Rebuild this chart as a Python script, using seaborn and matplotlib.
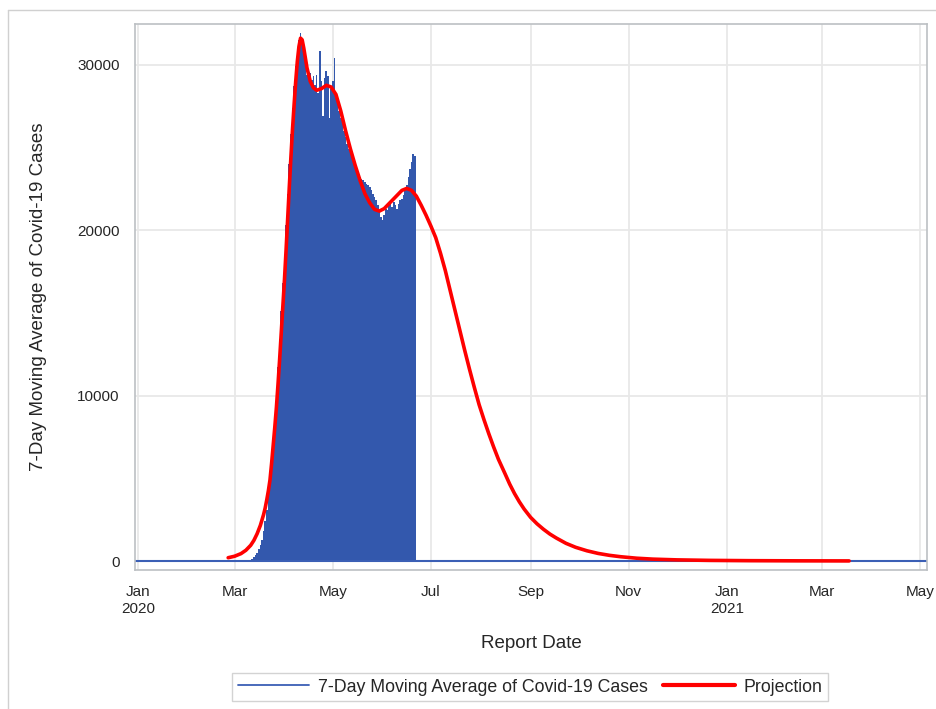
import numpy as np
import pandas as pd
import seaborn as sns
import matplotlib.pyplot as plt
import matplotlib.dates as mdates
from matplotlib.lines import Line2D

# daily values (first needle on 2020-03-12)
case_start = '2020-03-12'
case_values = [150, 250, 350, 500, 700, 950, 1300, 1800, 2400, 3100,
               3900, 4800, 5900, 7200, 8600, 10100, 11700, 13400, 15100, 16800,
               18500, 20300, 22200, 24000, 25800, 27400, 28700, 29900, 30800, 31500,
               31900, 31600, 30800, 30000, 29400, 29200, 29500, 29100, 29300, 28800,
               29400, 28300, 30800, 29000, 26900, 29200, 29600, 29300, 26800, 28500,
               29000, 30400, 28000, 27600, 27200, 26800, 26400, 26000, 25600, 25200,
               24900, 24700, 24400, 24100, 23800, 23600, 23400, 23200, 23100, 23000,
               22900, 22800, 22700, 22600, 22400, 22200, 22000, 21800, 21500, 21200,
               20800, 20600, 20900, 21300, 21200, 21500, 21600, 21400, 21700, 21500,
               21300, 21600, 21800, 21900, 22100, 22400, 22700, 23200, 23700, 24100,
               24600, 24500]

# projection curve
proj_dates = ['2020-02-26', '2020-03-01', '2020-03-05', '2020-03-08', '2020-03-11',
              '2020-03-13', '2020-03-15', '2020-03-17', '2020-03-19', '2020-03-20',
              '2020-03-21', '2020-03-22', '2020-03-23', '2020-03-24', '2020-03-25',
              '2020-03-26', '2020-03-27', '2020-03-28', '2020-03-29', '2020-03-30',
              '2020-03-31', '2020-04-01', '2020-04-02', '2020-04-03', '2020-04-04',
              '2020-04-05', '2020-04-06', '2020-04-07', '2020-04-08', '2020-04-09',
              '2020-04-10', '2020-04-11', '2020-04-12', '2020-04-13', '2020-04-14',
              '2020-04-15', '2020-04-17', '2020-04-19', '2020-04-21', '2020-04-24',
              '2020-04-27', '2020-04-30', '2020-05-03', '2020-05-06', '2020-05-09',
              '2020-05-12', '2020-05-15', '2020-05-18', '2020-05-21', '2020-05-24',
              '2020-05-27', '2020-05-30', '2020-06-02', '2020-06-05', '2020-06-09',
              '2020-06-13', '2020-06-16', '2020-06-19', '2020-06-22', '2020-06-25',
              '2020-06-28', '2020-07-01', '2020-07-04', '2020-07-07', '2020-07-10',
              '2020-07-13', '2020-07-16', '2020-07-19', '2020-07-22', '2020-07-25',
              '2020-07-28', '2020-07-31', '2020-08-03', '2020-08-06', '2020-08-09',
              '2020-08-12', '2020-08-16', '2020-08-19', '2020-08-22', '2020-08-25',
              '2020-08-28', '2020-09-01', '2020-09-05', '2020-09-09', '2020-09-13',
              '2020-09-17', '2020-09-23', '2020-09-29', '2020-10-06', '2020-10-13',
              '2020-10-20', '2020-10-27', '2020-11-06', '2020-11-16', '2020-12-01',
              '2020-12-21', '2021-01-15', '2021-02-14', '2021-03-18']
proj_values = [200, 290, 450, 650, 950,
               1250, 1650, 2150, 2800, 3200,
               3700, 4250, 4900, 5900, 7000,
               8100, 9300, 10700, 12200, 13800,
               15400, 17000, 18800, 20700, 22600,
               24400, 26100, 27600, 29000, 30200,
               31100, 31600, 31500, 31000, 30400,
               29800, 29000, 28600, 28450, 28550,
               28750, 28650, 28200, 27200, 26000,
               24900, 23900, 23000, 22200, 21650,
               21250, 21150, 21300, 21600, 22000,
               22400, 22520, 22400, 22050, 21500,
               20900, 20250, 19550, 18600, 17550,
               16350, 15150, 13950, 12750, 11600,
               10500, 9450, 8550, 7700, 6900,
               6150, 5300, 4650, 4080, 3580,
               3140, 2640, 2250, 1920, 1630,
               1390, 1070, 830, 620, 460,
               345, 260, 170, 115, 70,
               40, 22, 12, 7]

tick_dates = ['2020-01-01', '2020-03-01', '2020-05-01', '2020-07-01', '2020-09-01',
              '2020-11-01', '2021-01-01', '2021-03-01', '2021-05-01']
tick_labels = ['Jan\n2020', 'Mar', 'May', 'Jul', 'Sep', 'Nov', 'Jan\n2021', 'Mar', 'May']
y_ticks = [0, 10000, 20000, 30000]

sns.set_style('whitegrid')
plt.rcParams['font.family'] = ['Liberation Sans', 'DejaVu Sans']

case_dates = pd.date_range(case_start, periods=len(case_values), freq='D')
proj = pd.DataFrame({'date': pd.to_datetime(proj_dates), 'value': proj_values})

fig = plt.figure(figsize=(9.37, 7.09), dpi=100)
ax = fig.add_axes([0.1441, 0.196, 0.8452, 0.770])

ax.bar(case_dates, case_values, width=1.0, color='#3358ad', linewidth=0, zorder=2)
ax.axhline(0, color='#3b5fb5', lw=1.5, zorder=2)
sns.lineplot(data=proj, x='date', y='value', color='red', lw=2.6, ax=ax, zorder=3)

t0 = mdates.date2num(pd.Timestamp('2020-01-01'))
ax.set_xlim(t0 - 1.9, t0 + 490.4)
ax.set_ylim(-544, 32450)
ax.set_xticks(pd.to_datetime(tick_dates))
ax.set_xticklabels(tick_labels)
ax.set_yticks(y_ticks)
ax.set_yticklabels([str(v) for v in y_ticks])
ax.tick_params(axis='both', length=6, width=1, color='#a8a8a8', labelsize=11, pad=5)
ax.grid(True, color='#e8e8e8', lw=1.3)
ax.set_axisbelow(True)
for s in ax.spines.values():
    s.set_color('#bcc0c4')
    s.set_linewidth(1.2)

ax.set_xlabel('Report Date', fontsize=13.5, labelpad=14)
ax.set_ylabel('7-Day Moving Average of Covid-19 Cases', fontsize=13.5, labelpad=22)

handles = [Line2D([], [], color='#3b5fb5', lw=1.3), Line2D([], [], color='red', lw=3)]
fig.legend(handles, ['7-Day Moving Average of Covid-19 Cases', 'Projection'],
           loc='center', bbox_to_anchor=(530 / 937, 1 - 687 / 709), ncol=2,
           frameon=True, fancybox=False, edgecolor='#c8c8c8', fontsize=12.8,
           handlelength=4.0, columnspacing=0.9, borderpad=0.3, handletextpad=0.5)

# outer border of the graph
fig.add_artist(Line2D([8 / 937, 8 / 937], [0, 1 - 10 / 709], transform=fig.transFigure,
                      color='#d0d0d0', lw=1))
fig.add_artist(Line2D([8 / 937, 1], [1 - 10 / 709, 1 - 10 / 709], transform=fig.transFigure,
                      color='#d0d0d0', lw=1))

fig.savefig('out.png', dpi=100)
